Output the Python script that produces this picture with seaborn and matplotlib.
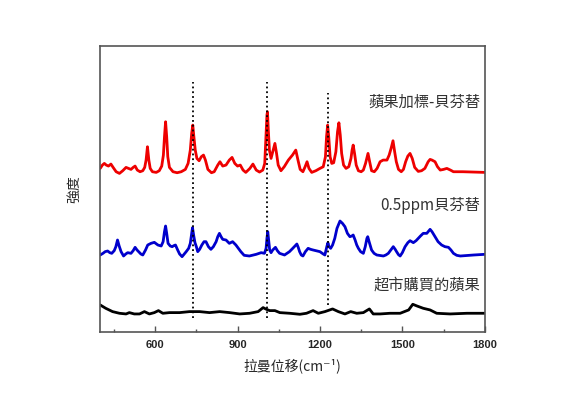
import numpy as np
import seaborn as sns
import matplotlib.pyplot as plt

# 拉曼光譜數據 (讀自原圖, 任意強度單位)
red_x = [400, 408, 415, 422, 430, 439, 447, 458, 470, 482, 494, 503, 512, 520, 527, 535, 545, 555,
         562, 567, 572, 577, 582, 590, 604, 615, 624, 630, 634, 638, 642, 646, 652, 665, 680, 695,
         710, 720, 728, 733, 737, 741, 746, 752, 760, 768, 776, 783, 792, 805, 815, 828, 836, 846,
         858, 870, 880, 890, 900, 910, 920, 930, 945, 956, 968, 980, 992, 999, 1003, 1007, 1009,
         1012, 1016, 1022, 1030, 1036, 1042, 1048, 1058, 1070, 1085, 1100, 1112, 1120, 1128, 1138,
         1146, 1153, 1160, 1170, 1185, 1200, 1212, 1220, 1224, 1228, 1232, 1237, 1243, 1250, 1258,
         1264, 1269, 1274, 1279, 1286, 1295, 1305, 1313, 1317, 1321, 1326, 1332, 1340, 1350, 1358,
         1366, 1375, 1381, 1388, 1398, 1408, 1419, 1430, 1444, 1452, 1459, 1466, 1472, 1478, 1486,
         1496, 1504, 1512, 1520, 1528, 1536, 1545, 1558, 1570, 1582, 1594, 1601, 1608, 1619, 1628,
         1638, 1650, 1662, 1675, 1686, 1720, 1760, 1800]
red_y = [15, 25, 30, 25, 22, 28, 18, 5, 0, 8, 18, 15, 12, 18, 22, 10, 5, 8,
         18, 40, 80, 40, 15, 5, 3, 8, 22, 55, 110, 155, 110, 50, 18, 5, 2, 5,
         12, 30, 70, 120, 145, 110, 70, 45, 38, 50, 55, 40, 12, 2, 5, 25, 35, 22,
         25, 40, 48, 30, 22, 25, 10, 3, 15, 28, 10, 4, 10, 30, 100, 175, 185,
         130, 70, 45, 70, 90, 60, 25, 8, 20, 40, 55, 70, 40, 12, 5,
         20, 35, 15, 3, 8, 15, 20, 50, 110, 145, 110, 50, 30, 32, 65,
         125, 152, 115, 60, 25, 15, 20, 45, 70, 85, 60, 25, 8, 5, 10,
         30, 60, 35, 8, 5, 15, 35, 40, 40, 55, 75, 98, 65, 35, 12,
         5, 12, 35, 52, 60, 45, 18, 6, 8, 15, 35, 42, 40, 35, 20,
         10, 12, 15, 10, 5, 5, 4, 3]

blue_x = [400, 410, 418, 427, 435, 442, 451, 457, 463, 469, 476, 485, 493, 500, 512, 520, 527, 534,
          540, 548, 555, 565, 573, 585, 597, 610, 622, 629, 634, 638, 642, 647, 655, 662, 668, 674,
          682, 689, 698, 706, 713, 722, 728, 733, 736, 740, 745, 750, 755, 762, 770, 778, 785, 794,
          803, 812, 822, 828, 834, 840, 846, 858, 870, 882, 894, 903, 912, 924, 943, 968, 986, 998,
          1004, 1007, 1010, 1013, 1017, 1022, 1028, 1038, 1045, 1053, 1071, 1089, 1101, 1110, 1116,
          1121, 1126, 1132, 1138, 1147, 1157, 1166, 1175, 1200, 1212, 1218, 1225, 1229, 1233, 1239,
          1246, 1254, 1262, 1273, 1282, 1291, 1300, 1309, 1316, 1321, 1328, 1334, 1340, 1348, 1358,
          1365, 1371, 1374, 1379, 1388, 1397, 1407, 1431, 1440, 1449, 1460, 1467, 1474, 1479, 1486,
          1492, 1500, 1510, 1520, 1528, 1540, 1550, 1558, 1566, 1576, 1589, 1595, 1601, 1608, 1619,
          1630, 1643, 1655, 1668, 1677, 1686, 1698, 1711, 1760, 1800]
blue_y = [5, 10, 15, 17, 12, 10, 18, 30, 50, 32, 15, 2, 8, 12, 10, 18, 28, 20,
          15, 8, 5, 20, 35, 40, 43, 35, 32, 45, 75, 92, 70, 40, 32, 30, 33, 35,
          20, 8, 0, 8, 15, 25, 40, 70, 87, 65, 42, 30, 15, 22, 35, 45, 45, 30,
          22, 30, 45, 60, 70, 60, 52, 50, 40, 45, 35, 25, 15, 4, 2, 7, 12, 10,
          25, 55, 75, 50, 20, 12, 20, 28, 18, 10, 5, 15, 25, 33, 38,
          28, 15, 5, 2, 15, 25, 22, 20, 15, 8, 5, 30, 42, 30, 25,
          35, 55, 85, 107, 100, 90, 70, 60, 62, 65, 50, 35, 25, 15, 10,
          30, 55, 60, 45, 20, 10, 5, 2, 5, 10, 22, 30, 22, 15, 6,
          2, 12, 30, 42, 48, 42, 48, 55, 62, 70, 70, 76, 82, 75, 60,
          45, 35, 30, 28, 20, 10, 4, 2, 5, 7]

black_x = [400, 420, 445, 470, 494, 506, 524, 543, 561, 579, 597, 612, 628, 652, 689, 725, 762, 798,
           835, 871, 908, 944, 975, 993, 1005, 1017, 1036, 1054, 1090, 1127, 1151, 1175, 1194, 1218,
           1246, 1267, 1291, 1312, 1334, 1358, 1380, 1394, 1419, 1455, 1492, 1523, 1538, 1553, 1576,
           1601, 1625, 1674, 1735, 1800]
black_y = [35, 25, 15, 10, 8, 12, 8, 8, 15, 8, 12, 18, 10, 12, 12, 15, 15, 12,
           15, 12, 8, 10, 15, 27, 22, 18, 18, 12, 10, 7, 10, 18, 10, 15,
           23, 15, 8, 15, 10, 12, 23, 8, 8, 10, 10, 20, 37, 32, 25,
           20, 10, 8, 10, 10]

peak_lines = [736, 1009, 1229]
labels = ['蘋果加標-貝芬替', '0.5ppm貝芬替', '超市購買的蘋果']

sns.set_style("ticks")
plt.rcParams['font.family'] = ['Noto Sans CJK TC', 'DejaVu Sans']

fig, ax = plt.subplots(figsize=(5.63, 3.98), dpi=100)
fig.subplots_adjust(left=0.178, right=0.861, top=0.884, bottom=0.166)

# 垂直偏移堆疊
sns.lineplot(x=red_x, y=np.array(red_y) + 476, color='#ee0000', linewidth=2.0, ax=ax)
sns.lineplot(x=blue_x, y=np.array(blue_y) + 226, color='#0000cc', linewidth=2.0, ax=ax)
sns.lineplot(x=black_x, y=np.array(black_y) + 46, color='black', linewidth=2.0, ax=ax)

ax.vlines(peak_lines[:2], 42, 750, colors='black', linestyles=':', linewidth=1.3)
ax.vlines(peak_lines[2], 81, 717, colors='black', linestyles=':', linewidth=1.3)

ax.text(1785, 690, labels[0], ha='right', va='center', fontsize=11, color='#333333')
ax.text(1785, 380, labels[1], ha='right', va='center', fontsize=11, color='#333333')
ax.text(1785, 140, labels[2], ha='right', va='center', fontsize=11, color='#333333')

ax.set_xlim(400, 1800)
ax.set_ylim(0, 858)
ax.set_xticks([600, 900, 1200, 1500, 1800])
ax.set_xticks([450, 750, 1050, 1350, 1650], minor=True)
ax.set_yticks([])
ax.tick_params(axis='x', which='major', direction='in', length=4.5, width=1, color='#555555', pad=6)
ax.tick_params(axis='x', which='minor', direction='in', length=2.5, width=1, color='#555555')
for lbl in ax.get_xticklabels():
    lbl.set_fontfamily('Liberation Sans')
    lbl.set_fontweight('bold')
    lbl.set_fontsize(8)
for sp in ax.spines.values():
    sp.set_visible(True)
    sp.set_color('#555555')
    sp.set_linewidth(1.2)

ax.set_xlabel('拉曼位移(cm⁻¹)', fontsize=10, labelpad=6)
ax.set_ylabel('強度', fontsize=10, labelpad=14)

plt.savefig('out.png', dpi=100)
